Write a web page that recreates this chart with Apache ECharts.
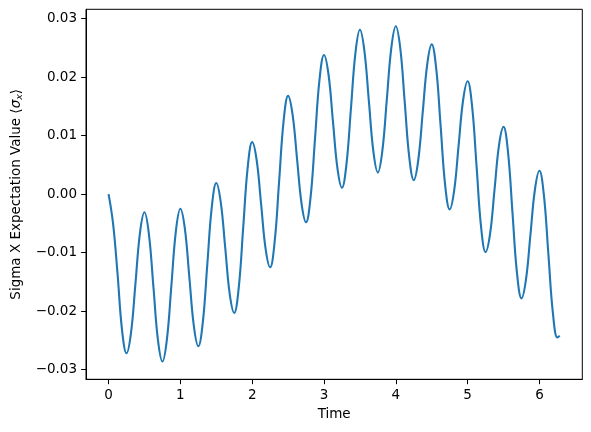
<!DOCTYPE html>
<html>
<head>
<meta charset="utf-8">
<script src="https://cdn.jsdelivr.net/npm/echarts@6/dist/echarts.min.js"></script>
<style>
html,body{margin:0;padding:0;background:#fff;}
#chart{width:591px;height:432px;}
</style>
</head>
<body>
<div id="chart"></div>
<script>
// Data
const timeValues = [
  0, 0.0625, 0.125, 0.1875, 0.25, 0.3125, 0.375, 0.4375,
  0.5, 0.5625, 0.625, 0.6875, 0.75, 0.8125, 0.875, 0.9375,
  1.0, 1.0625, 1.125, 1.1875, 1.25, 1.3125, 1.375, 1.4375,
  1.5, 1.5625, 1.625, 1.6875, 1.75, 1.8125, 1.875, 1.9375,
  2.0, 2.0625, 2.125, 2.1875, 2.25, 2.3125, 2.375, 2.4375,
  2.5, 2.5625, 2.625, 2.6875, 2.75, 2.8125, 2.875, 2.9375,
  3.0, 3.0625, 3.125, 3.1875, 3.25, 3.3125, 3.375, 3.4375,
  3.5, 3.5625, 3.625, 3.6875, 3.75, 3.8125, 3.875, 3.9375,
  4.0, 4.0625, 4.125, 4.1875, 4.25, 4.3125, 4.375, 4.4375,
  4.5, 4.5625, 4.625, 4.6875, 4.75, 4.8125, 4.875, 4.9375,
  5.0, 5.0625, 5.125, 5.1875, 5.25, 5.3125, 5.375, 5.4375,
  5.5, 5.5625, 5.625, 5.6875, 5.75, 5.8125, 5.875, 5.9375,
  6.0, 6.0625, 6.125, 6.1875, 6.25, 6.283
];
const sigmaXValues = [
  0, -0.0050, -0.0136, -0.0232, -0.0272, -0.0237, -0.0152, -0.0066,
  -0.0031, -0.0069, -0.0159, -0.0249, -0.0286, -0.0248, -0.0156, -0.0063,
  -0.0025, -0.0059, -0.0142, -0.0225, -0.0260, -0.0219, -0.0120, -0.0022,
  0.0019, -0.0014, -0.0092, -0.0171, -0.0203, -0.0160, -0.0057, 0.0046,
  0.0089, 0.0058, -0.0018, -0.0094, -0.0125, -0.0082, 0.0022, 0.0125,
  0.0168, 0.0136, 0.0060, -0.0016, -0.0048, -0.0006, 0.0095, 0.0196,
  0.0238, 0.0205, 0.0124, 0.0044, 0.0011, 0.0051, 0.0146, 0.0241,
  0.0281, 0.0245, 0.0159, 0.0073, 0.0037, 0.0074, 0.0162, 0.0250,
  0.0287, 0.0249, 0.0156, 0.0063, 0.0024, 0.0058, 0.0140, 0.0222,
  0.0256, 0.0215, 0.0115, 0.0015, -0.0026, 0.0006, 0.0084, 0.0161,
  0.0193, 0.0150, 0.0047, -0.0056, -0.0099, -0.0068, 0.0008, 0.0084,
  0.0115, 0.0072, -0.0032, -0.0135, -0.0178, -0.0146, -0.0069, 0.0008,
  0.0040, -0.0002, -0.0103, -0.0203, -0.0245, -0.0242
];
const xTicks = [0, 1, 2, 3, 4, 5, 6];
const yTicks = [-0.03, -0.02, -0.01, 0.00, 0.01, 0.02, 0.03];

const seriesData = timeValues.map((t, i) => [t, sigmaXValues[i]]);
const fontFamily = 'DejaVu Sans';
const fontSize = 13.5;

const chart = echarts.init(document.getElementById('chart'), null, {renderer: 'canvas'});
chart.setOption({
  animation: false,
  backgroundColor: '#ffffff',
  grid: {
    left: 86, right: 8.7, top: 9.3, bottom: 52.7,
    show: true, borderColor: '#000', borderWidth: 1, backgroundColor: 'transparent'
  },
  xAxis: {
    type: 'value',
    min: -0.3142, max: 6.597,
    name: 'Time',
    nameLocation: 'middle',
    nameGap: 28,
    nameTextStyle: {color: '#000', fontFamily: fontFamily, fontSize: fontSize},
    axisLine: {show: true, onZero: false, lineStyle: {color: '#000', width: 1}},
    axisTick: {show: true, customValues: xTicks, length: 4.9, inside: false, lineStyle: {color: '#000', width: 1}},
    axisLabel: {
      customValues: xTicks, margin: 9, color: '#000', fontFamily: fontFamily, fontSize: fontSize,
      formatter: v => String(Math.round(v))
    },
    splitLine: {show: false}
  },
  yAxis: {
    type: 'value',
    min: -0.03164, max: 0.0316,
    name: 'Sigma X Expectation Value ⟨{i|σ}{s|x}⟩',
    nameLocation: 'middle',
    nameGap: 61,
    nameRotate: 90,
    nameTextStyle: {
      color: '#000', fontFamily: fontFamily, fontSize: fontSize,
      rich: {
        i: {fontStyle: 'italic', fontFamily: fontFamily, fontSize: fontSize, color: '#000'},
        s: {fontStyle: 'italic', fontFamily: fontFamily, fontSize: 9.5, color: '#000', padding: [6, 0, 0, 0]}
      }
    },
    axisLine: {show: true, onZero: false, lineStyle: {color: '#000', width: 1}},
    axisTick: {show: true, customValues: yTicks, length: 4.9, inside: false, lineStyle: {color: '#000', width: 1}},
    axisLabel: {
      customValues: yTicks, margin: 9, color: '#000', fontFamily: fontFamily, fontSize: fontSize,
      formatter: v => {
        const s = Math.abs(v).toFixed(2);
        return (v < -1e-9 ? '\u2212' : '') + s;
      }
    },
    splitLine: {show: false}
  },
  series: [{
    type: 'line',
    data: seriesData,
    showSymbol: false,
    smooth: 0.4,
    lineStyle: {color: '#1f77b4', width: 2.1},
    itemStyle: {color: '#1f77b4'}
  }]
});
</script>
</body>
</html>
